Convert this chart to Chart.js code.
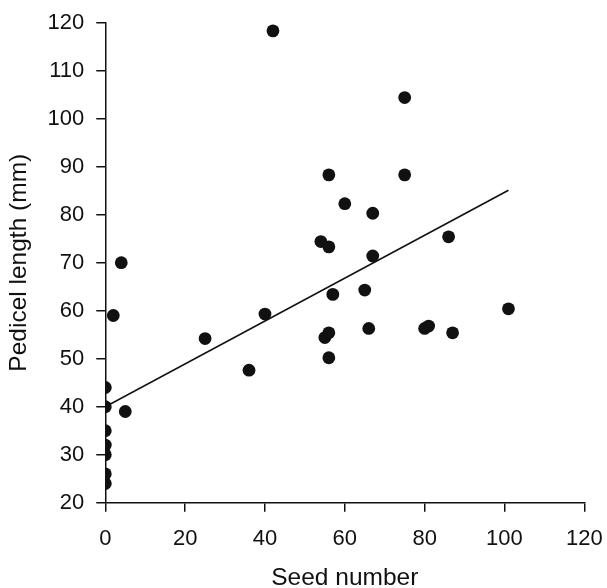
<!DOCTYPE html>
<html>
<head>
<meta charset="utf-8">
<script src="https://cdn.jsdelivr.net/npm/chart.js@4"></script>
<style>
  html, body { margin: 0; padding: 0; background: #fff; }
  #wrap { width: 607px; height: 588px; }
</style>
</head>
<body>
<div id="wrap"><canvas id="myScatter"></canvas></div>
<script>
// seed number per flower and its pedicel length (mm)
const seedNumber = [0, 0, 0, 0, 0, 0, 0, 2, 4, 5, 25, 36, 40, 42,
  54, 55, 56, 56, 56, 56, 57, 60, 65, 66, 67, 67, 75, 75, 80, 81, 86, 87, 101];
const pedicelLength = [44, 40, 35, 32, 30, 26, 24, 59, 70, 39, 54.2, 47.6, 59.3, 118.3,
  74.4, 54.4, 55.4, 50.2, 73.3, 88.3, 63.4, 82.3, 64.3, 56.3, 80.3, 71.4, 104.4, 88.3, 56.3, 56.8, 75.4, 55.4, 60.4];

// fitted line end points
const fitX = [0, 101];
const fitY = [40.0, 85.1];

const xTicks = [0, 20, 40, 60, 80, 100, 120];
const yTicks = [20, 30, 40, 50, 60, 70, 80, 90, 100, 110, 120];

const ink = "#111";
const family = "'Liberation Sans', Arial, sans-serif";
const tickFont = { family: family, size: 22 };
const titleFont = { family: family, size: 24.5 };

let points = seedNumber.map((s, i) => ({ x: s, y: pedicelLength[i] }));
let fitLine = fitX.map((s, i) => ({ x: s, y: fitY[i] }));

const ctx = document.getElementById("myScatter");

new Chart(ctx, {
  type: "scatter",
  data: {
    datasets: [
      {
        label: "fit",
        type: "line",
        data: fitLine,
        borderColor: ink,
        borderWidth: 1.6,
        pointRadius: 0,
        fill: false,
      },
      {
        label: "flowers",
        data: points,
        backgroundColor: ink,
        borderColor: ink,
        pointRadius: 6.4,
        borderWidth: 0,
      },
    ],
  },
  options: {
    responsive: true,
    maintainAspectRatio: false,
    animation: false,
    layout: { padding: { top: 22.7, right: 22.7, bottom: 0, left: 0 } },
    plugins: {
      legend: { display: false },
      tooltip: { enabled: false },
    },
    scales: {
      x: {
        type: "linear",
        min: 0,
        max: 120,
        afterBuildTicks: (axis) => { axis.ticks = xTicks.map(v => ({ value: v })); },
        afterFit: (axis) => {
          axis.height = 85.3;
          // let the end labels hang over the padding
          axis.paddingLeft = 0;
          axis.paddingRight = 0;
        },
        ticks: { color: ink, font: tickFont, padding: 14, maxRotation: 0 },
        grid: { drawOnChartArea: false, drawTicks: true, tickLength: 9, color: ink, lineWidth: 1.5 },
        border: { display: true, color: ink, width: 1.5 },
        title: { display: true, text: "Seed number", color: ink, font: titleFont, padding: { top: 0, bottom: -4.5 } },
      },
      y: {
        type: "linear",
        min: 20,
        max: 120,
        afterBuildTicks: (axis) => { axis.ticks = yTicks.map(v => ({ value: v })); },
        afterFit: (axis) => {
          axis.width = 105.3;
          axis.paddingTop = 0;
          axis.paddingBottom = 0;
        },
        ticks: { color: ink, font: tickFont, padding: 12 },
        grid: { drawOnChartArea: false, drawTicks: true, tickLength: 9, color: ink, lineWidth: 1.5 },
        border: { display: true, color: ink, width: 1.5 },
        title: { display: true, text: "Pedicel length (mm)", color: ink, font: titleFont, padding: { top: 5, bottom: 0 } },
      },
    },
  },
});
</script>
</body>
</html>
